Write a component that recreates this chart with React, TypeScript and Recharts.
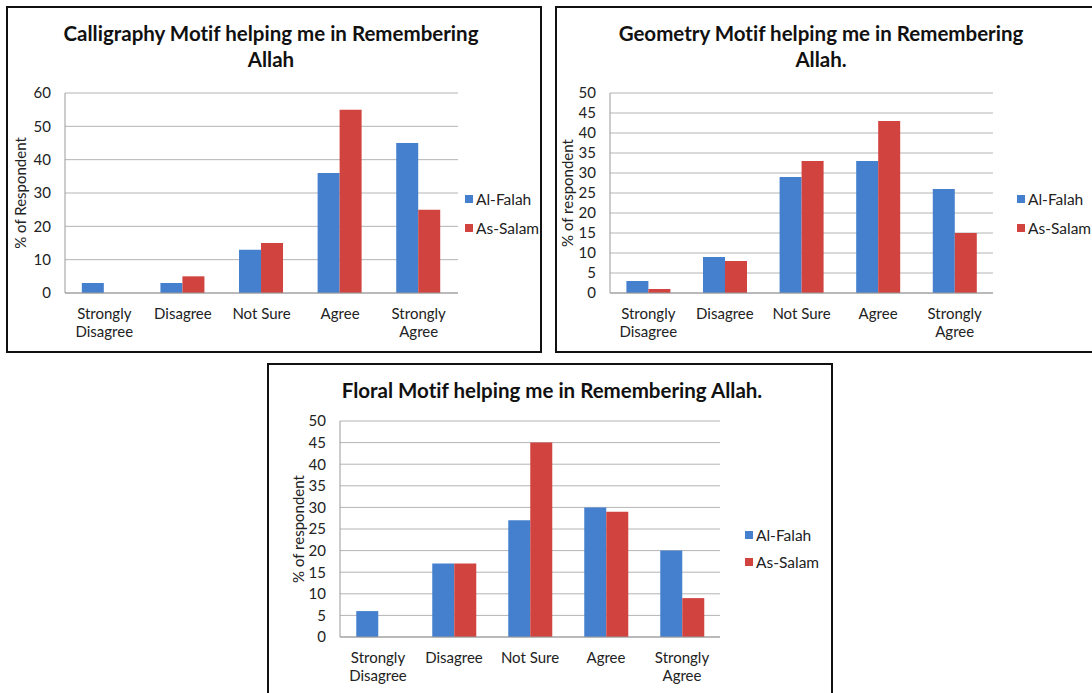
import React from "react";
import { BarChart, Bar, XAxis, YAxis, CartesianGrid } from "recharts";

const categories = ["Strongly Disagree", "Disagree", "Not Sure", "Agree", "Strongly Agree"];
const seriesNames = ["Al-Falah", "As-Salam"];

const calligraphyFalah = [3, 3, 13, 36, 45];
const calligraphySalam = [0, 5, 15, 55, 25];
const geometryFalah = [3, 9, 29, 33, 26];
const geometrySalam = [1, 8, 33, 43, 15];
const floralFalah = [6, 17, 27, 30, 20];
const floralSalam = [0, 17, 45, 29, 9];

const ticks60 = [0, 10, 20, 30, 40, 50, 60];
const ticks50 = [0, 5, 10, 15, 20, 25, 30, 35, 40, 45, 50];

const BLUE = "#4480CE";
const RED = "#D0433F";
const FONT = "Lato, 'Open Sans', sans-serif";

function toRows(a: number[], b: number[]) {
  return categories.map((c, i) => ({ cat: c, falah: a[i], salam: b[i] }));
}

/** 두 줄 카테고리 라벨 */
function CatTick(props: { x?: number; y?: number; payload?: { value: string } }) {
  const { x = 0, y = 0, payload } = props;
  const v = payload?.value ?? "";
  const lines = v.startsWith("Strongly ") ? ["Strongly", v.slice(9)] : [v];
  return (
    <g>
      {lines.map((l, i) => (
        <text
          key={i}
          x={x}
          y={y + 20 + i * 18}
          textAnchor="middle"
          dominantBaseline="central"
          fontSize={15}
          fill="#222"
          fontFamily={FONT}
        >
          {l}
        </text>
      ))}
    </g>
  );
}

interface PanelProps {
  left: number;
  top: number;
  width: number;
  height: number;
  title: string[];
  titleTop: number;
  titleCenter: number;
  yLabel: string;
  yLabelX: number;
  a: number[];
  b: number[];
  max: number;
  ticks: number[];
  margin: { top: number; right: number; bottom: number; left: number };
  yWidth: number;
  xHeight: number;
  legendX: number;
  legendY: number[];
}

function Panel(p: PanelProps) {
  const data = toRows(p.a, p.b);
  return (
    <div
      style={{
        position: "absolute",
        left: p.left,
        top: p.top,
        width: p.width,
        height: p.height,
        boxSizing: "border-box",
        border: "2px solid #111",
        background: "#fff",
      }}
    >
      <div style={{ position: "absolute", left: -2, top: -2 }}>
        <BarChart
          width={p.width}
          height={p.height}
          data={data}
          margin={p.margin}
          barCategoryGap="21.4%"
          barGap={0}
        >
          <CartesianGrid vertical={false} stroke="#b4b4b4" strokeWidth={1} />
          <XAxis
            dataKey="cat"
            interval={0}
            tickLine={false}
            tickSize={0}
            tickMargin={0}
            height={p.xHeight}
            axisLine={{ stroke: "#9a9a9a" }}
            tick={<CatTick />}
          />
          <YAxis
            domain={[0, p.max]}
            ticks={p.ticks}
            interval={0}
            width={p.yWidth}
            tickLine={false}
            tickSize={0}
            tickMargin={14}
            axisLine={{ stroke: "#9a9a9a" }}
            tick={{ fontSize: 15, fill: "#222", fontFamily: FONT }}
            label={{
              content: ({ viewBox }: any) => {
                const cy = viewBox.y + viewBox.height / 2;
                return (
                  <text
                    x={p.yLabelX}
                    y={cy}
                    transform={`rotate(-90 ${p.yLabelX} ${cy})`}
                    textAnchor="middle"
                    dominantBaseline="central"
                    fontSize={15}
                    fill="#222"
                    fontFamily={FONT}
                  >
                    {p.yLabel}
                  </text>
                );
              },
            }}
          />
          <Bar dataKey="falah" name={seriesNames[0]} fill={BLUE} isAnimationActive={false} />
          <Bar dataKey="salam" name={seriesNames[1]} fill={RED} isAnimationActive={false} />
        </BarChart>
      </div>
      {p.title.map((t, i) => (
        <div
          key={i}
          style={{
            position: "absolute",
            left: p.titleCenter - 300,
            width: 600,
            top: p.titleTop + i * 26 - 13,
            height: 26,
            lineHeight: "26px",
            textAlign: "center",
            fontFamily: FONT,
            fontWeight: 700,
            fontSize: 20.5,
            fontVariantLigatures: "none",
            color: "#111",
            whiteSpace: "nowrap",
          }}
        >
          {t}
        </div>
      ))}
      {seriesNames.map((s, i) => (
        <div
          key={s}
          style={{
            position: "absolute",
            left: p.legendX,
            top: p.legendY[i] - 10,
            height: 20,
            display: "flex",
            alignItems: "center",
            fontFamily: FONT,
            fontSize: 15.5,
            color: "#222",
            whiteSpace: "nowrap",
          }}
        >
          <span
            style={{
              display: "inline-block",
              width: 8,
              height: 8,
              background: i === 0 ? BLUE : RED,
              marginRight: 3,
            }}
          />
          {s}
        </div>
      ))}
    </div>
  );
}

export default function App() {
  return (
    <div
      style={{
        position: "absolute",
        left: 0,
        top: 0,
        width: 1092,
        height: 693,
        background: "#fff",
        overflow: "hidden",
      }}
    >
      <Panel
        left={6}
        top={6}
        width={536}
        height={347}
        title={["Calligraphy Motif helping me in Remembering", "Allah"]}
        titleTop={25}
        titleCenter={263}
        yLabel="% of Respondent"
        yLabelX={14}
        a={calligraphyFalah}
        b={calligraphySalam}
        max={60}
        ticks={ticks60}
        margin={{ top: 87, right: 84, bottom: 0, left: 0 }}
        yWidth={59}
        xHeight={60}
        legendX={457}
        legendY={[191, 220]}
      />
      <Panel
        left={555}
        top={6}
        width={540}
        height={347}
        title={["Geometry Motif helping me in Remembering", "Allah."]}
        titleTop={25}
        titleCenter={264}
        yLabel="% of respondent"
        yLabelX={12}
        a={geometryFalah}
        b={geometrySalam}
        max={50}
        ticks={ticks50}
        margin={{ top: 87, right: 102, bottom: 0, left: 0 }}
        yWidth={55}
        xHeight={60}
        legendX={460}
        legendY={[191, 220]}
      />
      <Panel
        left={267}
        top={363}
        width={566}
        height={340}
        title={["Floral Motif helping me in Remembering Allah."]}
        titleTop={25}
        titleCenter={283}
        yLabel="% of respondent"
        yLabelX={31}
        a={floralFalah}
        b={floralSalam}
        max={50}
        ticks={ticks50}
        margin={{ top: 58, right: 113, bottom: 0, left: 0 }}
        yWidth={73}
        xHeight={66}
        legendX={476}
        legendY={[170, 197]}
      />
    </div>
  );
}
